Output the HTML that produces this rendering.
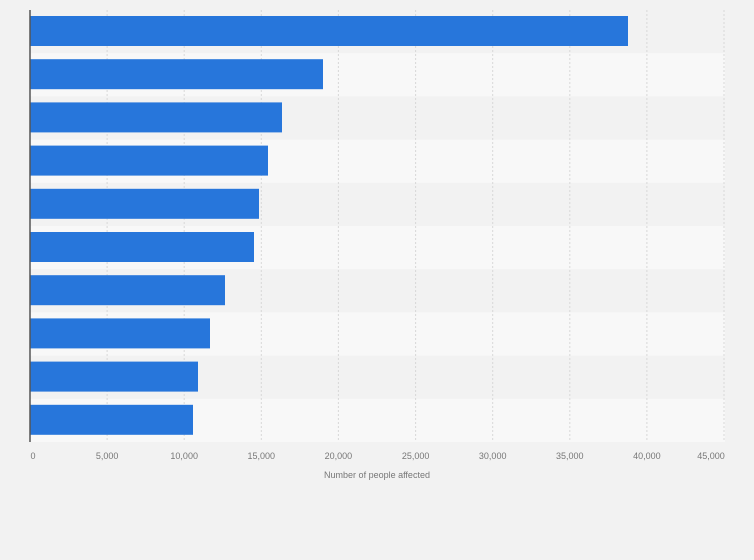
<!DOCTYPE html>
<html><head><style>
body{margin:0;background:#f2f2f2;}
svg{display:block;font-family:"Liberation Sans",sans-serif;}
</style></head><body>
<svg width="754" height="560" viewBox="0 0 754 560">
<rect width="754" height="560" fill="#f2f2f2"/>
<g id="stripes"></g>
<g fill="#f8f8f8">
<rect x="30" y="53.2" width="695" height="43.2"/>
<rect x="30" y="139.6" width="695" height="43.2"/>
<rect x="30" y="226" width="695" height="43.2"/>
<rect x="30" y="312.4" width="695" height="43.2"/>
<rect x="30" y="398.8" width="695" height="43.2"/>
</g>
<g stroke="#d8d8d8" stroke-width="1" stroke-dasharray="2,2">
<line x1="107.1" y1="10" x2="107.1" y2="442"/>
<line x1="184.2" y1="10" x2="184.2" y2="442"/>
<line x1="261.3" y1="10" x2="261.3" y2="442"/>
<line x1="338.4" y1="10" x2="338.4" y2="442"/>
<line x1="415.6" y1="10" x2="415.6" y2="442"/>
<line x1="492.7" y1="10" x2="492.7" y2="442"/>
<line x1="569.8" y1="10" x2="569.8" y2="442"/>
<line x1="646.9" y1="10" x2="646.9" y2="442"/>
<line x1="724" y1="10" x2="724" y2="442"/>
</g>
<g fill="#2776db">
<rect x="30" y="16" width="598" height="30"/>
<rect x="30" y="59.2" width="293" height="30"/>
<rect x="30" y="102.4" width="252" height="30"/>
<rect x="30" y="145.6" width="238" height="30"/>
<rect x="30" y="188.8" width="229" height="30"/>
<rect x="30" y="232" width="224" height="30"/>
<rect x="30" y="275.2" width="195" height="30"/>
<rect x="30" y="318.4" width="180" height="30"/>
<rect x="30" y="361.6" width="168" height="30"/>
<rect x="30" y="404.8" width="163" height="30"/>
</g>
<line x1="30" y1="10" x2="30" y2="442" stroke="#555" stroke-width="1.5"/>
<g fill="#777" font-size="9" text-anchor="middle">
<text x="33" y="459">0</text>
<text x="107.1" y="459">5,000</text>
<text x="184.2" y="459">10,000</text>
<text x="261.3" y="459">15,000</text>
<text x="338.4" y="459">20,000</text>
<text x="415.6" y="459">25,000</text>
<text x="492.7" y="459">30,000</text>
<text x="569.8" y="459">35,000</text>
<text x="646.9" y="459">40,000</text>
<text x="711" y="459">45,000</text>
<text x="377" y="478">Number of people affected</text>
</g>
</svg>
</body></html>
